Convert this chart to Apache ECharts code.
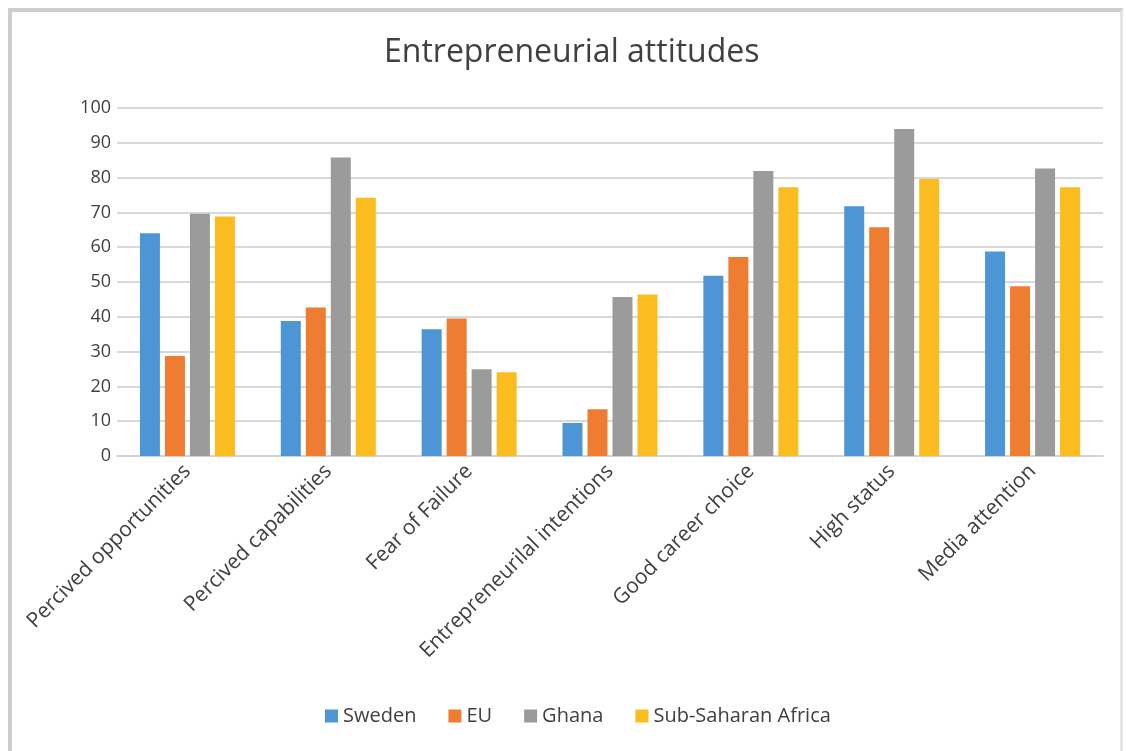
<!DOCTYPE html>
<html lang="en">
<head>
    <meta charset="UTF-8">
    <title>Entrepreneurial attitudes</title>
    <style>
        html, body { margin: 0; padding: 0; background: #fff; }
        .div { width: 1126px; height: 751px; position: absolute; left: 0; top: 0; }
        .frame {
            position: absolute; left: 8px; top: 8px; width: 1108px; height: 760px;
            border-left: 4px solid #cdcdcd; border-top: 4px solid #cdcdcd; border-right: 3px solid #e4e4e4;
            pointer-events: none;
        }
    </style>
</head>
<body>
    <div class="div"></div>
    <div class="frame"></div>
    <script src="https://cdn.jsdelivr.net/npm/echarts@6/dist/echarts.min.js"></script>
    <script>
        var categories = ['Percived opportunities', 'Percived capabilities', 'Fear of Failure',
            'Entrepreneurilal intentions', 'Good career choice', 'High status', 'Media attention'];
        var sweden = [64, 38.8, 36.4, 9.5, 51.8, 71.8, 58.8];
        var eu = [28.7, 42.7, 39.5, 13.4, 57.2, 65.7, 48.8];
        var ghana = [69.6, 85.8, 24.9, 45.7, 81.9, 94, 82.6];
        var ssa = [68.8, 74.2, 24.1, 46.4, 77.2, 79.6, 77.2];
        var seriesNames = ['Sweden', 'EU', 'Ghana', 'Sub-Saharan Africa'];
        var colors = ['#4e95d6', '#ee7c31', '#9b9b9b', '#fbbc1f'];

        var font = '"Open Sans", Lato, sans-serif';
        var myecharts = echarts.init(document.getElementsByClassName('div')[0]);
        var allData = [sweden, eu, ghana, ssa];
        var option = {
            animation: false,
            color: colors,
            title: {
                text: 'Entrepreneurial attitudes',
                left: 379,
                top: 32,
                textStyle: { fontFamily: font, fontSize: 32, fontWeight: 'normal', color: '#404040' }
            },
            legend: {
                bottom: 20,
                left: 320,
                itemWidth: 13,
                itemHeight: 13,
                itemGap: 32,
                icon: 'rect',
                textStyle: { fontFamily: font, fontSize: 20, color: '#404040' },
                data: seriesNames
            },
            grid: { left: 117, right: 23, top: 108, bottom: 295 },
            xAxis: {
                type: 'category',
                data: categories,
                axisLine: { lineStyle: { color: '#d4d4d4', width: 2 } },
                axisTick: { show: false },
                axisLabel: { rotate: 45, fontFamily: font, fontSize: 21, color: '#404040', margin: 12, interval: 0 }
            },
            yAxis: {
                type: 'value',
                min: 0,
                max: 100,
                interval: 10,
                axisLine: { show: false },
                axisTick: { show: false },
                splitLine: { lineStyle: { color: '#d9d9d9', width: 2 } },
                axisLabel: { fontFamily: font, fontSize: 18, color: '#404040', margin: 6 }
            },
            series: seriesNames.map(function (name, i) {
                return {
                    name: name,
                    type: 'bar',
                    data: allData[i],
                    barWidth: 20,
                    barGap: '25%'
                };
            })
        };
        myecharts.setOption(option);
    </script>
</body>
</html>
